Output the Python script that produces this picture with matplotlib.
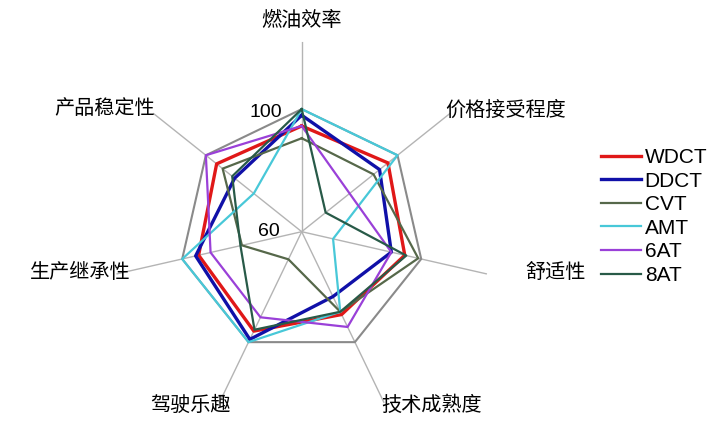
import numpy as np
import matplotlib
matplotlib.use('Agg')
import matplotlib.pyplot as plt

plt.rcParams['font.family'] = ['Noto Sans CJK SC', 'DejaVu Sans']

# Radar data (scale 60 -> 100)
categories = ['燃油效率', '价格接受程度', '舒适性', '技术成熟度', '驾驶乐趣', '生产继承性', '产品稳定性']
wdct = [94.5, 96, 94.5, 90, 96, 94.5, 95.5]
ddct = [98, 92.5, 90, 83.5, 99, 95.5, 88]
cvt = [90.5, 90, 99, 89, 70, 80, 93]
amt = [100, 100, 70.5, 89, 100, 100, 80]
at6 = [94.5, 80, 90, 94.5, 91, 90.5, 100]
at8 = [100, 70, 95, 89, 95.5, 80.5, 89]
series_names = ['WDCT', 'DDCT', 'CVT', 'AMT', '6AT', '8AT']
r_min, r_max, r_spoke = 60, 100, 122

series = [wdct, ddct, cvt, amt, at6, at8]
colors = ['#e01818', '#1010a8', '#56684a', '#48c8d8', '#9a40d8', '#285a48']
widths = [2.4, 2.4, 1.6, 1.6, 1.6, 1.6]

fig = plt.figure(figsize=(7.2, 4.32), dpi=100)
W, H = 720, 432
cx, cy, rad = 301.7, 231.7, 190
ax = fig.add_axes([(cx - rad) / W, (H - cy - rad) / H, 2 * rad / W, 2 * rad / H],
                  projection='polar')
ax.set_theta_zero_location('N')
ax.set_theta_direction(-1)
ax.set_ylim(r_min, r_spoke)
ax.grid(False)
ax.set_xticks([])
ax.set_yticks([])
ax.spines['polar'].set_visible(False)
ax.patch.set_visible(False)

n = len(categories)
theta = np.arange(n) * 2 * np.pi / n
theta_c = np.append(theta, theta[0])

# spokes and outer ring
for t in theta:
    ax.plot([t, t], [r_min, r_spoke], color='#b4b4b4', lw=1.0, zorder=1)
ax.plot(theta_c, [r_max] * (n + 1), color='#8a8a8a', lw=1.5, zorder=1)

for vals, name, c, lw in zip(series, series_names, colors, widths):
    v = np.append(vals, vals[0])
    ax.plot(theta_c, v, color=c, lw=lw, label=name, zorder=3)

ax.annotate('100', xy=(0, r_max), xytext=(-20, -3), textcoords='offset pixels',
            ha='right', va='center', fontsize=14, family=['Liberation Sans'])
ax.annotate('60', xy=(0, r_min), xytext=(-22, 0), textcoords='offset pixels',
            ha='right', va='center', fontsize=14, family=['Liberation Sans'])

# category labels (pixel positions from the reference)
label_x = [301, 506, 556, 432, 190, 80, 105]
label_y = [20, 110, 272, 405, 405, 272, 108]
for lab, x, y in zip(categories, label_x, label_y):
    fig.text(x / W, 1 - y / H, lab, ha='center', va='center', fontsize=14.5)

leg = fig.legend(loc='upper left', bbox_to_anchor=(601 / W, 1 - 148 / H),
                 frameon=False, handlelength=1.9, handletextpad=0.2,
                 labelspacing=0.22, borderpad=0, borderaxespad=0,
                 prop={'family': ['Liberation Sans'], 'size': 15})

fig.savefig('out.png', dpi=100)
